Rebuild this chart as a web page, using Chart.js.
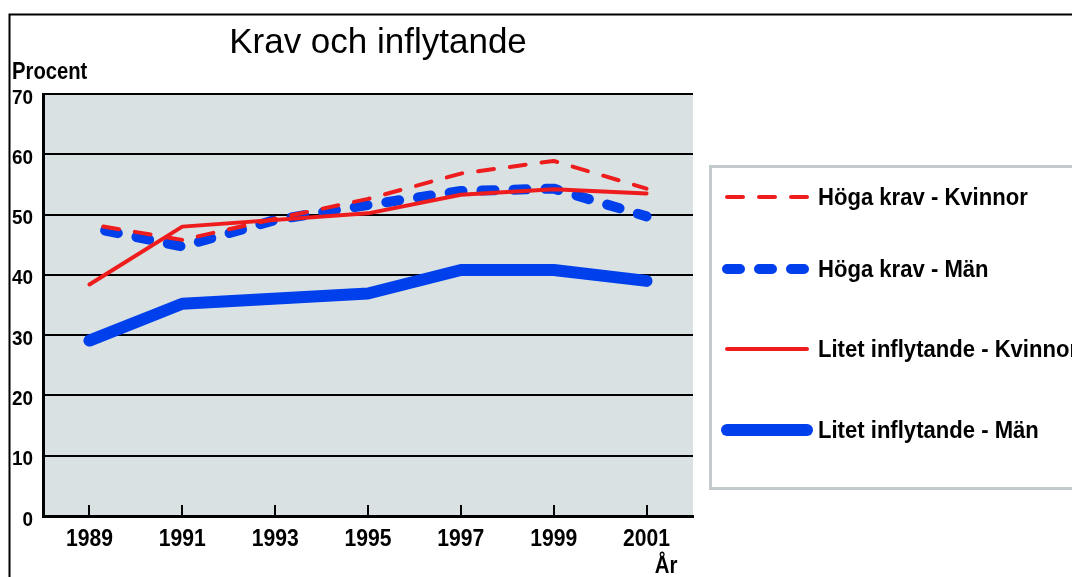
<!DOCTYPE html>
<html>
<head>
<meta charset="utf-8">
<script src="https://cdn.jsdelivr.net/npm/chart.js@4.4.0/dist/chart.umd.min.js"></script>
<style>
    html, body { margin: 0; padding: 0; background: #fff; }
    #wrap { width: 1072px; height: 577px; }
</style>
</head>
<body>
<div id="wrap"><canvas id="chart" width="1072" height="577"></canvas></div>
<script>
// Chart data
const years = ['1989', '1991', '1993', '1995', '1997', '1999', '2001'];
const hogaKravKvinnor = [48.4, 45.8, 49.3, 52.6, 56.8, 58.9, 54.3];
const hogaKravMan = [47.9, 44.7, 49.1, 51.6, 53.9, 54.3, 49.7];
const litetInflytandeKvinnor = [38.4, 48.0, null, 50.2, 53.3, 54.2, 53.5];
const litetInflytandeMan = [29.1, 35.2, null, 36.9, 40.8, 40.8, 39.0];
const yTicks = [0, 10, 20, 30, 40, 50, 60, 70];

const titleText = 'Krav och inflytande';
const yAxisTitle = 'Procent';
const xAxisTitle = 'År';

const FONT = "'Liberation Sans', Arial, sans-serif";
const RED = '#ee1c1c';
const BLUE = '#0040ec';
const SQUEEZE = 0.88; // the reference uses a condensed bold face

// draw text squeezed horizontally
function squeezedText(ctx, text, x, y, sx) {
    ctx.save();
    ctx.translate(x, y);
    ctx.scale(sx, 1);
    ctx.fillText(text, 0, 0);
    ctx.restore();
}

// Background, frame, title, tick labels, inner x ticks and legend
const decorPlugin = {
    id: 'decor',
    beforeDraw(chart) {
        const ctx = chart.ctx;
        const a = chart.chartArea;
        ctx.save();
        ctx.fillStyle = '#d9e1e3';
        ctx.fillRect(a.left, a.top, a.right - a.left, a.bottom - a.top);
        ctx.restore();
    },
    afterDraw(chart) {
        const ctx = chart.ctx;
        const a = chart.chartArea;
        const xScale = chart.scales.x;
        const yScale = chart.scales.y;
        ctx.save();

        // outer frame (top and left edge)
        ctx.strokeStyle = '#000';
        ctx.lineWidth = 2;
        ctx.beginPath();
        ctx.moveTo(9.5, 577);
        ctx.lineTo(9.5, 14.5);
        ctx.lineTo(1072, 14.5);
        ctx.stroke();

        // tick marks pointing up into the plot
        xScale.ticks.forEach((t, i) => {
            const px = Math.round(xScale.getPixelForTick(i));
            ctx.beginPath();
            ctx.moveTo(px, a.bottom);
            ctx.lineTo(px, a.bottom - 11);
            ctx.stroke();
        });

        // tick labels, condensed bold
        ctx.fillStyle = '#000';
        ctx.textBaseline = 'alphabetic';
        ctx.font = 'bold 24px ' + FONT;
        ctx.textAlign = 'center';
        xScale.ticks.forEach((t, i) => {
            squeezedText(ctx, xScale.getLabelForValue(t.value), xScale.getPixelForTick(i), 546, SQUEEZE);
        });
        ctx.font = 'bold 21px ' + FONT;
        ctx.textAlign = 'right';
        yScale.ticks.forEach((t, i) => {
            squeezedText(ctx, String(t.value), 33, yScale.getPixelForTick(i) + 9.5, 0.9);
        });

        // title and axis titles
        ctx.font = '35px ' + FONT;
        ctx.textAlign = 'center';
        ctx.fillText(titleText, 378, 53);
        ctx.font = 'bold 23px ' + FONT;
        ctx.textAlign = 'left';
        squeezedText(ctx, yAxisTitle, 12, 79, SQUEEZE);
        ctx.font = 'bold 24px ' + FONT;
        ctx.textAlign = 'center';
        squeezedText(ctx, xAxisTitle, 666, 573, 0.85);

        // legend box
        ctx.fillStyle = '#fff';
        ctx.fillRect(711, 166, 400, 322);
        ctx.strokeStyle = '#c2cacd';
        ctx.lineWidth = 3;
        ctx.strokeRect(710.5, 166.5, 400, 322);

        const rows = [197, 269, 349, 430];
        chart.data.datasets.forEach((ds, i) => {
            const y = rows[i];
            ctx.strokeStyle = ds.borderColor;
            ctx.lineWidth = ds.borderWidth;
            ctx.setLineDash(ds.borderDash || []);
            ctx.lineDashOffset = 0;
            ctx.lineCap = 'round';
            ctx.beginPath();
            ctx.moveTo(727, y);
            ctx.lineTo(807, y);
            ctx.stroke();
            ctx.setLineDash([]);
            ctx.fillStyle = '#000';
            ctx.font = 'bold 24px ' + FONT;
            ctx.textAlign = 'left';
            ctx.textBaseline = 'middle';
            squeezedText(ctx, ds.label, 818, y + 1, 0.92);
        });
        ctx.restore();
    }
};

new Chart(document.getElementById('chart'), {
    type: 'line',
    data: {
        labels: years,
        datasets: [
            {
                label: 'Höga krav - Kvinnor',
                data: hogaKravKvinnor,
                borderColor: RED,
                borderWidth: 4,
                borderDash: [16, 16],
                borderDashOffset: 18,
                borderCapStyle: 'round',
                order: 0
            },
            {
                label: 'Höga krav - Män',
                data: hogaKravMan,
                borderColor: BLUE,
                borderWidth: 10,
                borderDash: [13, 19],
                borderDashOffset: 16,
                borderCapStyle: 'round',
                order: 2
            },
            {
                label: 'Litet inflytande - Kvinnor',
                data: litetInflytandeKvinnor,
                borderColor: RED,
                borderWidth: 4,
                borderCapStyle: 'round',
                spanGaps: true,
                order: 1
            },
            {
                label: 'Litet inflytande - Män',
                data: litetInflytandeMan,
                borderColor: BLUE,
                borderWidth: 12,
                borderCapStyle: 'round',
                spanGaps: true,
                order: 3
            }
        ]
    },
    options: {
        responsive: false,
        animation: false,
        devicePixelRatio: 1,
        layout: { padding: { top: 94, right: 379, left: 10, bottom: 0 } },
        elements: {
            point: { radius: 0, hoverRadius: 0 },
            line: { tension: 0, borderJoinStyle: 'round', fill: false }
        },
        plugins: {
            legend: { display: false },
            tooltip: { enabled: false },
            title: { display: false }
        },
        scales: {
            x: {
                type: 'category',
                offset: true,
                grid: { display: false, drawTicks: false },
                border: { display: true, color: '#000', width: 3 },
                ticks: { display: false, autoSkip: false },
                afterFit(scale) { scale.height = 61; }
            },
            y: {
                min: 0,
                max: 70,
                afterBuildTicks(scale) {
                    scale.ticks = yTicks.map(v => ({ value: v }));
                },
                grid: { color: '#000', lineWidth: 2, drawTicks: false },
                border: { color: '#000', width: 3 },
                ticks: { display: false },
                afterFit(scale) { scale.width = 33; }
            }
        }
    },
    plugins: [decorPlugin]
});
</script>
</body>
</html>
